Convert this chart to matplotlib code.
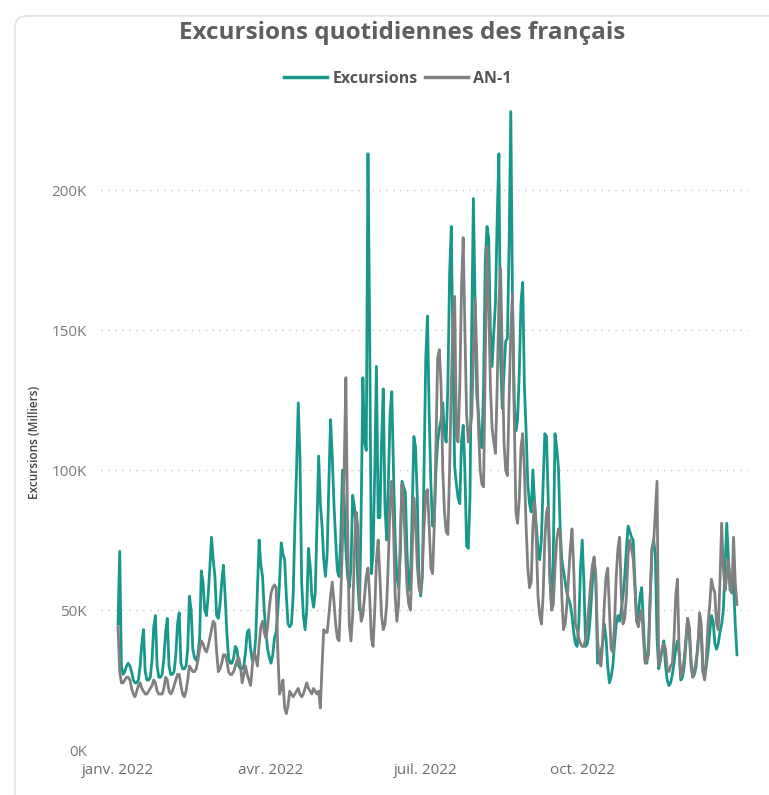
import matplotlib
matplotlib.use("Agg")
import matplotlib.pyplot as plt
from matplotlib.patches import FancyBboxPatch
import pandas as pd

plt.rcParams['font.family'] = ['Open Sans', 'DejaVu Sans']

# daily values, thousands, one line per week (Sat -> Fri), from 1 Jan 2022
excursions = [
    45, 71, 30, 27, 28, 30, 31,
    30, 28, 25, 24, 24, 25, 30,
    38, 43, 28, 25, 25, 26, 32,
    44, 48, 30, 26, 26, 27, 33,
    42, 47, 30, 27, 27, 28, 34,
    45, 49, 31, 29, 29, 30, 36,
    55, 50, 36, 33, 32, 34, 40,
    64, 60, 50, 48, 55, 65, 76,
    68, 62, 48, 47, 52, 60, 66,
    55, 42, 33, 31, 31, 33, 37,
    36, 30, 29, 29, 30, 35, 42,
    43, 36, 32, 33, 40, 58, 75,
    66, 62, 50, 42, 36, 33, 31,
    34, 40, 42, 50, 60, 74, 70,
    68, 55, 45, 44, 45, 55, 80,
    100, 124, 105, 60, 48, 43, 50,
    72, 66, 55, 51, 56, 80, 105,
    88, 80, 68, 62, 70, 95, 118,
    105, 88, 75, 64, 62, 75, 100,
    90, 72, 62, 58, 65, 91, 87,
    80, 60, 50, 85, 133, 110, 107,
    213, 150, 63, 70, 100, 137, 83,
    83, 110, 129, 87, 75, 95, 120,
    128, 100, 75, 62, 58, 70, 96,
    94, 92, 70, 57, 60, 85, 112,
    108, 90, 60, 55, 62, 100, 140,
    155, 120, 95, 80, 82, 100, 110,
    115, 118, 124, 112, 110, 130, 170,
    187, 140, 101, 95, 90, 88, 110,
    116, 100, 73, 72, 90, 150, 197,
    160, 127, 120, 110, 108, 130, 175,
    187, 183, 150, 137, 149, 160, 190,
    213, 140, 122, 135, 146, 147, 180,
    228, 160, 125, 114, 118, 135, 160,
    167, 130, 114, 95, 88, 85, 100,
    88, 80, 72, 68, 75, 95, 113,
    112, 90, 62, 50, 70, 113, 108,
    101, 80, 68, 64, 60, 56, 54,
    52, 48, 42, 38, 37, 45, 65,
    75, 60, 37, 38, 42, 50, 60,
    68, 62, 31, 33, 35, 38, 45,
    40, 30, 24, 26, 30, 38, 45,
    48, 46, 50, 55, 62, 72, 80,
    78, 76, 75, 60, 46, 48, 55,
    58, 45, 32, 31, 38, 55, 72,
    75, 70, 40, 29, 32, 36, 39,
    30, 25, 23, 24, 27, 31, 36,
    39, 35, 25, 26, 30, 38, 47,
    42, 30, 26, 27, 30, 38, 44,
    42, 28, 26, 30, 35, 42, 48,
    46, 38, 36, 38, 42, 45, 50,
    65, 81, 68, 57, 62, 60, 45,
    34,
]

an_1 = [
    44, 28, 24, 24, 25, 26, 26,
    25, 22, 20, 19, 21, 23, 24,
    22, 21, 20, 20, 21, 22, 23,
    25, 24, 21, 20, 20, 20, 22,
    26, 25, 21, 20, 21, 23, 25,
    27, 27, 23, 20, 19, 21, 25,
    30, 29, 28, 28, 29, 32, 36,
    39, 38, 36, 35, 37, 40, 43,
    46, 45, 35, 28, 29, 31, 34,
    34, 32, 28, 27, 27, 28, 30,
    32, 33, 30, 24, 27, 30, 27,
    25, 23, 30, 35, 33, 30, 38,
    44, 46, 42, 40, 44, 51, 56,
    58, 59, 58, 35, 20, 22, 25,
    15, 13, 16, 21, 20, 19, 20,
    21, 22, 20, 19, 20, 22, 24,
    22, 21, 20, 22, 21, 20, 21,
    15, 30, 43, 42, 42, 48, 55,
    60, 53, 45, 40, 39, 55, 74,
    100, 133, 80, 45, 39, 48, 70,
    85, 80, 55, 46, 48, 55, 62,
    65, 55, 40, 37, 50, 68, 75,
    62, 48, 43, 45, 52, 68, 88,
    96, 80, 55, 46, 52, 75, 95,
    88, 72, 58, 52, 50, 70, 90,
    82, 66, 58, 56, 65, 80, 92,
    93, 80, 65, 63, 80, 110, 140,
    143, 130, 100, 85, 78, 77, 100,
    130, 155, 162, 112, 110, 130, 165,
    183, 150, 120, 110, 115, 119, 140,
    161, 140, 115, 100, 95, 94, 140,
    180, 160, 130, 115, 110, 106, 130,
    160, 172, 140, 110, 100, 98, 125,
    150, 163, 120, 85, 81, 90, 108,
    113, 100, 80, 65, 58, 60, 80,
    89, 75, 55, 48, 45, 55, 75,
    85, 87, 62, 50, 52, 65, 75,
    79, 78, 55, 43, 45, 52, 62,
    72, 79, 65, 45, 43, 40, 38,
    37, 37, 40, 45, 52, 60, 66,
    69, 60, 40, 32, 30, 38, 52,
    62, 65, 50, 36, 35, 45, 62,
    72, 76, 55, 45, 47, 55, 70,
    75, 72, 68, 58, 46, 44, 48,
    50, 40, 31, 32, 34, 55, 71,
    74, 85, 96, 30, 33, 36, 38,
    36, 29, 28, 30, 31, 40, 55,
    61, 35, 26, 28, 33, 40, 47,
    44, 32, 26, 28, 32, 36, 49,
    45, 28, 25, 33, 45, 52, 61,
    58, 56, 45, 43, 60, 81, 65,
    57, 62, 68, 58, 56, 76, 60,
    52,
]

jours = pd.date_range("2022-01-01", periods=len(excursions), freq="D")
mois_ticks = pd.to_datetime(["2022-01-01", "2022-04-01", "2022-07-01", "2022-10-01"])
mois_labels = ["janv. 2022", "avr. 2022", "juil. 2022", "oct. 2022"]
y_ticks = [0, 50, 100, 150, 200]

teal = "#17988a"
gris = "#808080"

fig = plt.figure(figsize=(7.69, 7.95), dpi=100)
fig.patch.set_facecolor("white")

# cadre de la carte (style Power BI)
card = FancyBboxPatch((15 / 769, -0.05), 1.0, 1.04 - 8 / 795,
                      boxstyle="round,pad=0,rounding_size=0.015",
                      transform=fig.transFigure, facecolor="none",
                      edgecolor="#e3e3e3", linewidth=1.2, zorder=-1)
fig.patches.append(card)

ax = fig.add_axes([101 / 769, 1 - 750 / 795, 647 / 769, 645 / 795])
ax.set_facecolor("none")

ax.plot(jours, excursions, color=teal, lw=2.0, label="Excursions", solid_joinstyle="round")
ax.plot(jours, an_1, color=gris, lw=2.0, label="AN-1", solid_joinstyle="round")

ax.set_ylim(0, 230.4)
ax.set_xlim(jours[0] - pd.Timedelta(days=10), jours[0] + pd.Timedelta(days=370.5))

ax.set_yticks(y_ticks)
ax.set_yticklabels([f"{v}K" for v in y_ticks])
ax.set_xticks(mois_ticks)
ax.set_xticklabels(mois_labels)
ax.tick_params(axis="y", length=0, pad=10, labelsize=11, labelcolor="#7a7a7a")
ax.tick_params(axis="x", length=0, pad=9, labelsize=11, labelcolor="#6e6e6e")

ax.grid(axis="y", linestyle=(0, (1, 4)), color="#c8c8c8", linewidth=1)
ax.set_axisbelow(True)
for s in ax.spines.values():
    s.set_visible(False)

fig.text(35 / 769, 1 - 442 / 795, "Excursions (Milliers)", rotation=90,
         ha="center", va="center", fontsize=8.5, color="#444444", fontweight="semibold")

fig.text(402 / 769, 1 - 33 / 795, "Excursions quotidiennes des français",
         ha="center", va="center", fontsize=17.5, fontweight="bold", color="#5f5f5f")

leg = fig.legend(loc="center", bbox_to_anchor=(398 / 769, 1 - 79 / 795), ncol=2,
                 frameon=False, handlelength=2.7, handletextpad=0.3, columnspacing=0.5,
                 prop={"weight": "bold", "size": 11.5})
for t in leg.get_texts():
    t.set_color("#555555")
for h in leg.get_lines():
    h.set_linewidth(2.5)

fig.savefig("out.png", dpi=100, facecolor="white")
